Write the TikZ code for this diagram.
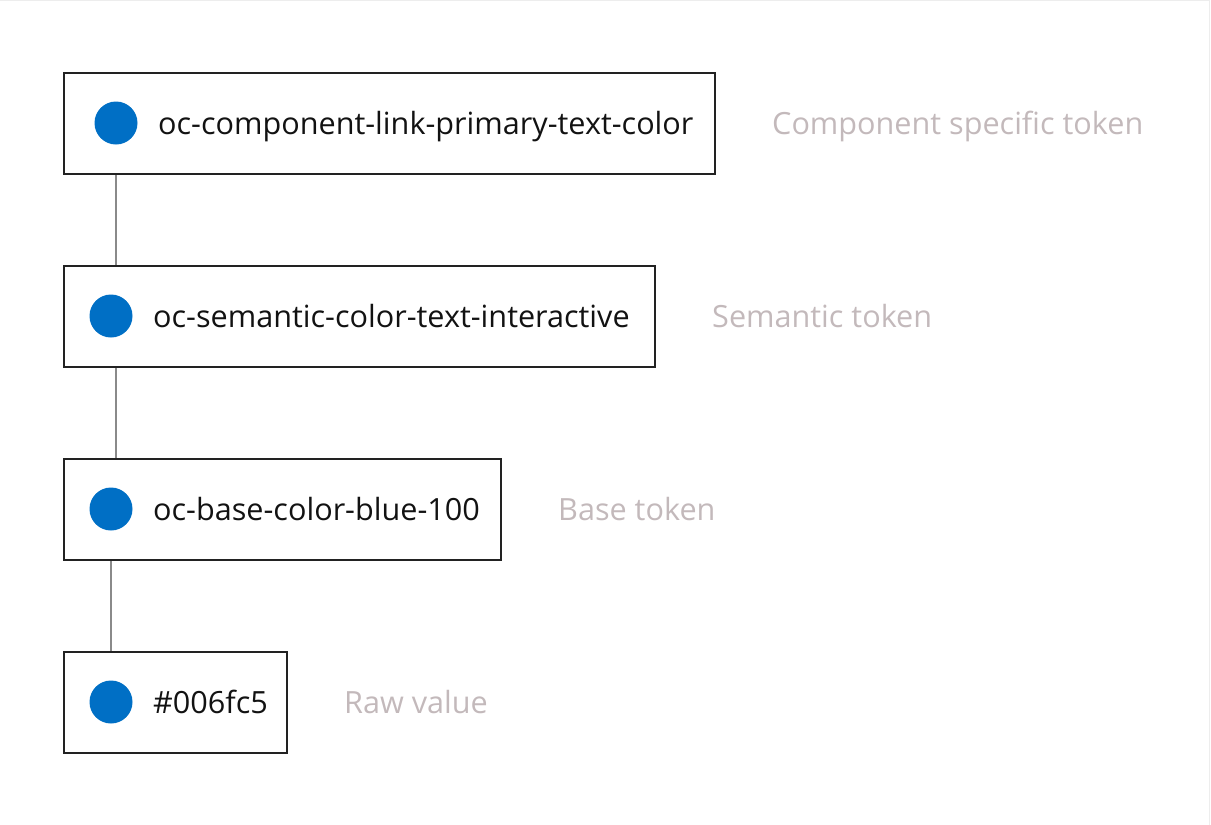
\documentclass[tikz,border=0pt]{standalone}
\usepackage{fontspec}
\setmainfont{Open Sans}
\usetikzlibrary{positioning}
\definecolor{tokenblue}{HTML}{006FC5}
\definecolor{tiergray}{HTML}{C3B9BB}
\definecolor{boxline}{HTML}{222222}
\definecolor{wirecolor}{HTML}{8A8A8A}
\tikzstyle{tokenbox}=[draw=boxline,line width=2pt,anchor=north west,minimum height=101pt,inner sep=0pt]
\tikzstyle{swatch}=[circle,fill=tokenblue,minimum size=43pt,inner sep=0pt]
\tikzstyle{tokenname}=[anchor=base west,inner sep=0pt,font=\fontsize{30.6}{36}\selectfont,text=black!93]
\tikzstyle{tier}=[anchor=base west,inner sep=0pt,font=\fontsize{30.6}{36}\selectfont,text=tiergray]
\tikzstyle{wire}=[draw=wirecolor,line width=1.5pt]

\begin{document}
\begin{tikzpicture}[x=1pt,y=-1pt]
	\useasboundingbox (0,0) rectangle (1211,825);
	\draw[black!7,line width=1pt] (0,0.5) -- (1209.5,0.5) -- (1209.5,825);
	% token boxes
	\node[tokenbox,minimum width=651pt] (comp) at (63,72) {};
	\node[tokenbox,minimum width=591pt] (sem)  at (63,265) {};
	\node[tokenbox,minimum width=437pt] (base) at (63,458) {};
	\node[tokenbox,minimum width=223pt] (raw)  at (63,651) {};
	\node[swatch] (compdot) at (116,123) {};
	\node[swatch] (semdot)  at (111,316) {};
	\node[swatch] (basedot) at (111,509) {};
	\node[swatch] (rawdot)  at (111,702) {};
	\node[tokenname] (compname) at (158,134) {oc-component-link-primary-text-color};
	\node[tokenname] (semname)  at (153,327) {oc-semantic-color-text-interactive};
	\node[tokenname] (basename) at (153,520) {oc-base-color-blue-100};
	\node[tokenname] (rawname)  at (153,713) {\#006fc5};
	% tier labels
	\node[tier] (comptier) at ([xshift=56pt]comp.east |- compname.base) {Component specific token};
	\node[tier] (semtier)  at ([xshift=56pt]sem.east |- semname.base) {Semantic token};
	\node[tier] (basetier) at ([xshift=56pt]base.east |- basename.base) {Base token};
	\node[tier] (rawtier)  at ([xshift=56pt]raw.east |- rawname.base) {Raw value};
	\draw[wire] (comp.south -| compdot) -- (sem.north -| compdot);
	\draw[wire] (sem.south -| compdot) -- (base.north -| compdot);
	\draw[wire] (base.south -| basedot) -- (raw.north -| rawdot);
\end{tikzpicture}
\end{document}
